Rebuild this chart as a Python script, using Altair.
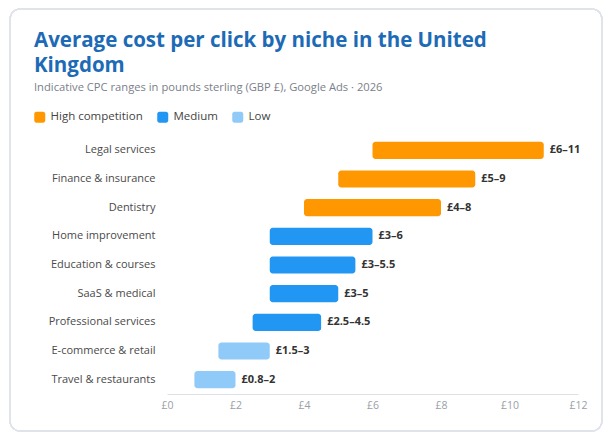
import altair as alt
import pandas as pd

niches = ["Legal services", "Finance & insurance", "Dentistry", "Home improvement",
          "Education & courses", "SaaS & medical", "Professional services",
          "E-commerce & retail", "Travel & restaurants"]
low = [6, 5, 4, 3, 3, 3, 2.5, 1.5, 0.8]
high = [11, 9, 8, 6, 5.5, 5, 4.5, 3, 2]
tiers = ["High competition", "High competition", "High competition", "Medium", "Medium",
         "Medium", "Medium", "Low", "Low"]
labels = ["£6–11", "£5–9", "£4–8", "£3–6", "£3–5.5", "£3–5", "£2.5–4.5", "£1.5–3", "£0.8–2"]
tier_order = ["High competition", "Medium", "Low"]
tier_colors = ["#FF9800", "#2196F3", "#90CAF9"]
x_ticks = [0, 2, 4, 6, 8, 10, 12]

df = pd.DataFrame({"niche": niches, "low": low, "high": high, "tier": tiers, "label": labels})

FONT = "Open Sans"
rounded = ("M-0.6,-1H0.6A0.4,0.4 0 0 1 1,-0.6V0.6A0.4,0.4 0 0 1 0.6,1H-0.6"
           "A0.4,0.4 0 0 1 -1,0.6V-0.6A0.4,0.4 0 0 1 -0.6,-1Z")

y_enc = alt.Y("niche:N", sort=niches, title=None,
              scale=alt.Scale(paddingInner=0.4, paddingOuter=0.2),
              axis=alt.Axis(ticks=False, domain=False, labelPadding=12, labelFontSize=11,
                            labelColor="#4a4a4a", labelFont=FONT, zindex=1))

card = alt.Chart(df).mark_rect(
    fillOpacity=0, stroke="#e0e4ea", strokeWidth=1.2, cornerRadius=10, clip=False
).encode(x=alt.value(-157), x2=alt.value(435), y=alt.value(-127), y2=alt.value(295))

bars = alt.Chart(df).mark_bar(cornerRadius=3).encode(
    y=y_enc,
    x=alt.X("low:Q", title=None,
            scale=alt.Scale(domain=[0, 12], nice=False),
            axis=alt.Axis(values=x_ticks, labelExpr="'£' + datum.value", grid=False, ticks=False,
                          labelFlush=False, domainColor="#dde1e6", labelColor="#9aa0a6",
                          labelFontSize=10.5, labelFont=FONT, labelPadding=6, zindex=1)),
    x2="high:Q",
    color=alt.Color("tier:N", scale=alt.Scale(domain=tier_order, range=tier_colors),
                    legend=alt.Legend(title=None, orient="none", direction="horizontal",
                                      legendX=-133, legendY=-25, symbolType=rounded,
                                      symbolSize=121, symbolStrokeWidth=0, labelFontSize=11.5,
                                      labelColor="#444444", labelFont=FONT, columnPadding=14,
                                      labelOffset=5)),
)

text = alt.Chart(df).mark_text(align="left", baseline="middle", dx=6, fontWeight="bold",
                               fontSize=11, color="#333333", font=FONT).encode(
    y=alt.Y("niche:N", sort=niches),
    x=alt.X("high:Q"),
    text="label:N",
)

chart = alt.layer(card, bars, text).properties(
    width=411, height=258,
    autosize=alt.AutoSizeParams(type="none"),
    padding={"left": 167, "top": 136, "right": 34, "bottom": 41},
    background="white",
    title=alt.TitleParams(
        text=["Average cost per click by niche in the United", "Kingdom"],
        subtitle="Indicative CPC ranges in pounds sterling (GBP £), Google Ads · 2026",
        anchor="start", frame="group", dx=-133, offset=-85,
        font=FONT, fontSize=20.5, fontWeight="bold", color="#1d6ab6", lineHeight=25,
        subtitleFont=FONT, subtitleFontSize=11.2, subtitleColor="#7a8089", subtitlePadding=6,
    ),
).configure_view(stroke=None)

chart.save("out.html", embed_options={"renderer": "svg", "actions": False})
